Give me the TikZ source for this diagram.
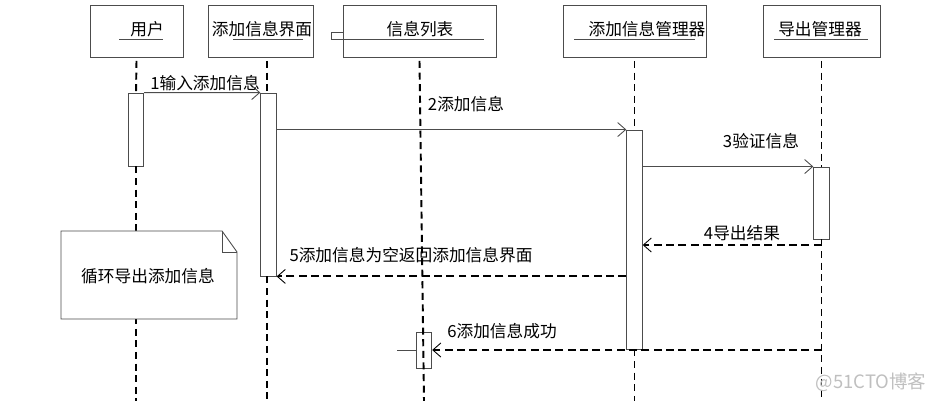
\documentclass[tikz,border=0pt]{standalone}
\usepackage{fontspec}
\setmainfont{Noto Sans CJK SC}
\usetikzlibrary{arrows.meta}

\begin{document}
\begin{tikzpicture}[x=0.02cm,y=-0.02cm,
  every node/.style={font=\fontsize{9.5}{11}\selectfont},
  obj/.style={draw=black!70,line width=0.5pt,inner sep=0pt,minimum height=1.04cm},
  bar/.style={draw=black!70,line width=0.5pt,inner sep=0pt,minimum width=0.31cm},
  uline/.style={black!70,line width=0.5pt},
  life/.style={line width=1.1pt,dash pattern=on 4pt off 2.6pt},
  msg/.style={black!70,line width=0.5pt,-{Straight Barb[length=1.6mm,width=2.8mm,line width=0.5pt]}},
  ret/.style={msg,black,line width=1.1pt,dash pattern=on 4.5pt off 2.5pt}]
\useasboundingbox (0,0) rectangle (930,401);

% objects
\node[obj,minimum width=1.86cm] (user) at (136.5,31) {};
\node[obj,minimum width=2.1cm] (ui) at (260.5,31) {};
\node[obj,minimum width=3.06cm] (list) at (419.5,31) {};
\node[obj,minimum width=2.86cm] (mgr) at (634.5,31) {};
\node[obj,minimum width=2.34cm] (exp) at (821.5,31) {};

\node (userlbl) at (147,29) {用户};
\node (uilbl) at (262,29) {添加信息界面};
\node (listlbl) at (420,29) {信息列表};
\node (mgrlbl) at (647,29) {添加信息管理器};
\node (explbl) at (820,29) {导出管理器};

\draw[uline] (119,39) -- (163,39);
\draw[uline] (233,39) -- (303,39);
\draw[uline] (331,39) -- (484,39);
\draw[uline] (331,39) -- (331,32) -- (343,32);
\draw[uline] (574,39) -- (695,39);
\draw[uline] (774,39) -- (868,39);

% activations
\node[bar,minimum height=1.46cm] (ub) at (136,129.5) {};
\node[bar,minimum height=3.66cm] (ib) at (268.5,184.5) {};
\node[bar,minimum height=4.38cm] (mb) at (634.5,239.5) {};
\node[bar,minimum height=1.44cm] (eb) at (821.5,203) {};
\node[bar,minimum height=0.72cm] (lb) at (424,350) {};

\coordinate (ue) at (136,401);
\coordinate (ie) at (267,401);
\coordinate (le) at (424,401);
\coordinate (me) at (634.5,401);
\coordinate (ee) at (821.5,401);

% lifelines
\draw[life] ([yshift=-2pt]user.south) -- (ub.north);
\draw[life] (ub.south) -- (ue);
\draw[life] ([yshift=-2pt]ui.south -| ie) -- (ib.north -| ie);
\draw[life] (ib.south -| ie) -- (ie);
\draw[life] ([yshift=-2pt]list.south) -- (le);
\draw[life] ([yshift=-2pt]mgr.south) -- (mb.north);
\draw[life] (mb.south) -- (me);
\draw[life] ([yshift=-2pt]exp.south) -- (eb.north);
\draw[life] (eb.south) -- (ee);

% note
\draw[black!70,line width=0.5pt,fill=white] (61,231) -- (222,231) -- (237,252) -- (237,319) -- (61,319) -- cycle;
\draw[black!70,line width=0.5pt] (222,231) -- (222,252) -- (237,252);
\node (note) at (148,276) {循环导出添加信息};

% messages
\coordinate (c4) at (821.5,245);
\coordinate (c6) at (397,350);

\draw[msg] (ub.north east) -- (ib.north west);
\node (m1) at (205,83) {1输入添加信息};
\draw[msg] (ib.north east |- mb.north) -- (mb.north west);
\node (m2) at (466,104) {2添加信息};
\draw[msg] (mb.east |- eb.north) -- (eb.north west);
\node (m3) at (761,141) {3验证信息};
\draw[ret] (c4) -- (mb.east |- c4);
\node (m4) at (742,233) {4导出结果};
\draw[ret] (mb.west |- ib.south) -- (ib.south east);
\node (m5) at (411,255) {5添加信息为空返回添加信息界面};
\draw[ret] (eb.south |- lb.east) -- (lb.east);
\node (m6) at (502,331) {6添加信息成功};
\draw[uline] (lb.west) -- (c6);

\node[text=black!25,font=\fontsize{10.5}{12}\selectfont] (wm) at (871,382) {@51CTO博客};
\end{tikzpicture}
\end{document}
